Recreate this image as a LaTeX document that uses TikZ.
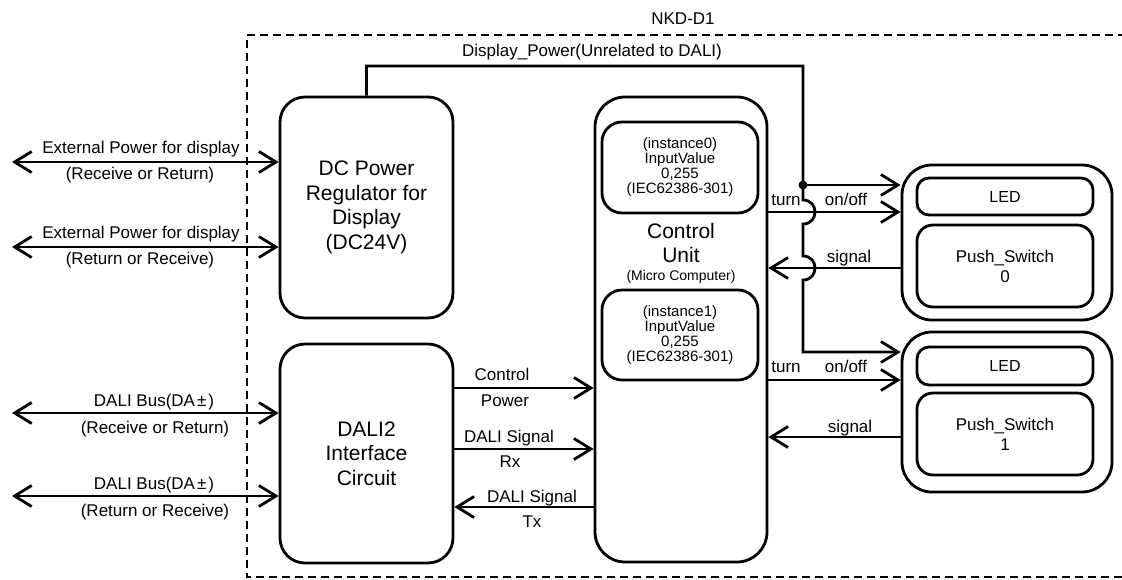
\documentclass[tikz,border=0pt]{standalone}
\usepackage{fontspec}
\setmainfont{Liberation Sans}
\usetikzlibrary{arrows.meta}
\begin{document}
\begin{tikzpicture}[x=1pt,y=-1pt,line width=2.8pt,
  >={Straight Barb[length=17pt,width=21pt]},
  blk/.style={draw, rounded corners=25pt, minimum width=173pt, inner sep=0pt, align=center, font=\fontsize{21}{24.5}\selectfont},
  inst/.style={draw, rounded corners=20pt, minimum width=156pt, minimum height=91pt, inner sep=0pt, align=center, font=\fontsize{15}{15}\selectfont},
  lbl/.style={inner sep=0pt, anchor=base, font=\fontsize{17}{20}\selectfont},
  outerbox/.style={draw, rounded corners=30pt, minimum width=210pt, inner sep=0pt},
  ledbox/.style={draw, rounded corners=12pt, minimum width=176pt, minimum height=37pt, inner sep=0pt, font=\fontsize{16}{19}\selectfont},
  psbox/.style={draw, rounded corners=16pt, minimum width=176pt, minimum height=82pt, inner sep=0pt, align=center, font=\fontsize{17}{20}\selectfont},
  border/.style={line width=1.8pt, dash pattern=on 8pt off 5pt}
]
\useasboundingbox (0,0) rectangle (1122,579);

% dashed device border
\draw[border] (1126,35) -- (247,35) -- (247,577) -- (1126,577);
\node[lbl] (nkd) at (683,24) {NKD-D1};

% main blocks
\node[blk, minimum height=221pt] (dc) at (366.5,207.5) {DC Power\\Regulator for\\Display\\(DC24V)};
\node[blk, minimum height=219pt] (dali) at (366.5,453.5) {DALI2\\Interface\\Circuit};
\node[draw, rounded corners=30pt, minimum width=172pt, minimum height=465pt, inner sep=0pt] (cu) at (681,329.5) {};
\node[inst] (i0) at (680,167.5) {(instance0)\\InputValue\\0,255\\(IEC62386-301)};
\node[inst, minimum height=90pt] (i1) at (680,335) {(instance1)\\InputValue\\0,255\\(IEC62386-301)};
\node[inner sep=0pt, anchor=base, font=\fontsize{21}{24}\selectfont] (cu1) at (681,238) {Control};
\node[inner sep=0pt, anchor=base, font=\fontsize{21}{24}\selectfont] (cu2) at (681,262) {Unit};
\node[inner sep=0pt, anchor=base, font=\fontsize{14}{16}\selectfont] (cu3) at (681,280) {(Micro Computer)};

% switch units
\node[outerbox, minimum height=155pt] (sw0) at (1007,242.5) {};
\node[ledbox] (led0) at (1005,196.5) {LED};
\node[psbox] (ps0) at (1005,266) {Push\_Switch\\0};
\node[outerbox, minimum height=160pt] (sw1) at (1007,412) {};
\node[ledbox, minimum height=38pt] (led1) at (1005,366) {LED};
\node[psbox] (ps1) at (1005,434) {Push\_Switch\\1};

% external connections
\coordinate (e1) at (12,162);
\coordinate (e2) at (12,247);
\coordinate (b1) at (12,413);
\coordinate (b2) at (12,496);
\draw[<->] (e1) -- (dc.west |- e1);
\draw[<->] (e2) -- (dc.west |- e2);
\draw[<->] (b1) -- (dali.west |- b1);
\draw[<->] (b2) -- (dali.west |- b2);
\node[lbl] (e1t) at (141,153) {External Power for display};
\node[lbl] (e1b) at (140,179) {(Receive or Return)};
\node[lbl] (e2t) at (141,238) {External Power for display};
\node[lbl] (e2b) at (140,264) {(Return or Receive)};
\node[lbl] (b1t) at (154,406) {DALI Bus(DA\kern2pt±\kern2pt)};
\node[lbl] (b1b) at (155,433) {(Receive or Return)};
\node[lbl] (b2t) at (154,489) {DALI Bus(DA\kern2pt±\kern2pt)};
\node[lbl] (b2b) at (155,516) {(Return or Receive)};

% DALI2 <-> control unit
\coordinate (m1) at (453,388);
\coordinate (m2) at (453,449);
\coordinate (m3) at (453,507);
\draw[->] (dali.east |- m1) -- (cu.west |- m1);
\draw[->] (dali.east |- m2) -- (cu.west |- m2);
\draw[->] (cu.west |- m3) -- (dali.east |- m3);
\node[lbl] (m1t) at (502,380) {Control};
\node[lbl] (m1b) at (505,406) {Power};
\node[lbl] (m2t) at (509,442) {DALI Signal};
\node[lbl] (m2b) at (510,467) {Rx};
\node[lbl] (m3t) at (532,502) {DALI Signal};
\node[lbl] (m3b) at (532,527) {Tx};

% display power line
\coordinate (p1) at (366.5,66);
\coordinate (p2) at (803,66);
\coordinate (c1) at (803,352);
\coordinate (J) at (803,185);
\draw[->] (dc.north) -- (p1) -- (p2) -- (803,200)
  .. controls (819,200) and (819,224) .. (803,224) -- (803,256)
  .. controls (819,256) and (819,280) .. (803,280) -- (c1) -- (sw1.west |- c1);
\fill (J) circle[radius=4.5pt];
\draw[->] (J) -- (sw0.west |- J);
\node[lbl] (dp) at (592,56) {Display\_Power(Unrelated to DALI)};

% control unit <-> switches
\coordinate (t0) at (767,212);
\coordinate (s0) at (767,268);
\coordinate (t1) at (767,380);
\coordinate (s1) at (767,437);
\draw[->] (cu.east |- t0) -- (sw0.west |- t0);
\draw[->] (sw0.west |- s0) -- (cu.east |- s0);
\draw[->] (cu.east |- t1) -- (sw1.west |- t1);
\draw[->] (sw1.west |- s1) -- (cu.east |- s1);
\node[lbl] (t0a) at (786,205) {turn};
\node[lbl] (t0b) at (846,205) {on/off};
\node[lbl] (s0a) at (849,262) {signal};
\node[lbl] (t1a) at (786,372) {turn};
\node[lbl] (t1b) at (846,372) {on/off};
\node[lbl] (s1a) at (850,432) {signal};
\end{tikzpicture}
\end{document}
